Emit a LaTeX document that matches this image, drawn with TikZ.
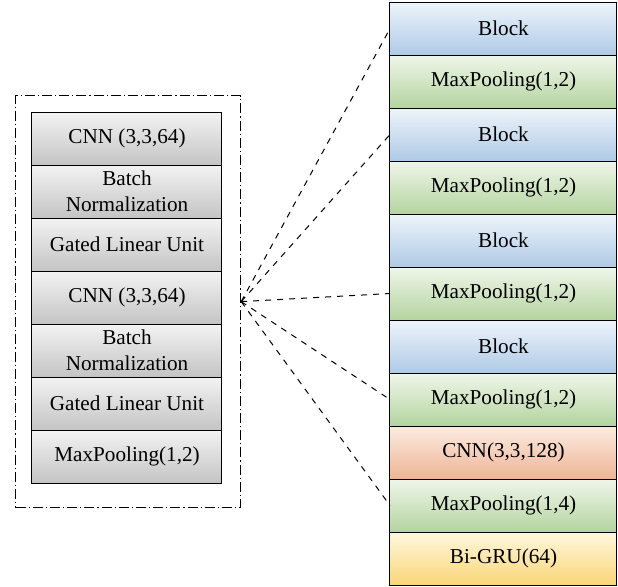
\documentclass[tikz,border=0pt]{standalone}
\usepackage{fontspec}
\setmainfont{Liberation Serif}
\usetikzlibrary{positioning}

\definecolor{grayTop}{HTML}{F3F3F3}
\definecolor{grayBot}{HTML}{C4C4C4}
\definecolor{blueTop}{HTML}{EEF4FB}
\definecolor{blueBot}{HTML}{AFCAE6}
\definecolor{greenTop}{HTML}{EFF6EA}
\definecolor{greenBot}{HTML}{B4D49F}
\definecolor{redTop}{HTML}{FCEBE2}
\definecolor{redBot}{HTML}{EEB595}
\definecolor{yellowTop}{HTML}{FFF7DF}
\definecolor{yellowBot}{HTML}{F9D676}

\begin{document}
\begin{tikzpicture}[
            font = \fontsize{10.6}{13}\selectfont, % text size
            node distance = 0pt, % stacked layers touch
            layer/.style = {draw, line width=0.5pt, outer sep=0pt, inner sep=1pt,
                            minimum height=26.5pt, align=center},
            unit/.style = {layer, minimum width=95pt, top color=grayTop, bottom color=grayBot},
            stage/.style = {layer, minimum width=113.5pt},
            block/.style = {stage, top color=blueTop, bottom color=blueBot},
            pool/.style = {stage, top color=greenTop, bottom color=greenBot},
            conv/.style = {stage, top color=redTop, bottom color=redBot},
            gru/.style = {stage, top color=yellowTop, bottom color=yellowBot},
            link/.style = {dashed, line width=0.5pt} % zoom lines
        ]

    \useasboundingbox (0,0) rectangle (309pt,-293pt);

    % inside of one block
    \node[draw, dash pattern=on 5pt off 1.5pt on 0.6pt off 1.5pt, line width=0.6pt,
          minimum width=112.5pt, minimum height=206pt,
          anchor=north west] (frame) at (7.5pt,-47.5pt) {};

    \node[unit, anchor=north west] (cnnA) at (16pt,-56pt) {CNN (3,3,64)};
    \node[unit, below=of cnnA] (bnA) {Batch\\Normalization};
    \node[unit, below=of bnA] (gluA) {Gated Linear Unit};
    \node[unit, below=of gluA] (cnnB) {CNN (3,3,64)};
    \node[unit, below=of cnnB] (bnB) {Batch\\Normalization};
    \node[unit, below=of bnB] (gluB) {Gated Linear Unit};
    \node[unit, below=of gluB] (poolIn) {MaxPooling(1,2)};

    % whole network
    \node[block, anchor=north west] (blockA) at (195pt,-1pt) {Block};
    \node[pool, below=of blockA] (poolA) {MaxPooling(1,2)};
    \node[block, below=of poolA] (blockB) {Block};
    \node[pool, below=of blockB] (poolB) {MaxPooling(1,2)};
    \node[block, below=of poolB] (blockC) {Block};
    \node[pool, below=of blockC] (poolC) {MaxPooling(1,2)};
    \node[block, below=of poolC] (blockD) {Block};
    \node[pool, below=of blockD] (poolD) {MaxPooling(1,2)};
    \node[conv, below=of poolD] (cnnOut) {CNN(3,3,128)};
    \node[pool, below=of cnnOut] (poolE) {MaxPooling(1,4)};
    \node[gru, below=of poolE] (gru) {Bi-GRU(64)};

    \draw[link] (frame.east) -- (blockA.west);
    \draw[link] (frame.east) -- (blockB.west);
    \draw[link] (frame.east) -- (poolC.west);
    \draw[link] (frame.east) -- (poolD.west);
    \draw[link] (frame.east) -- (poolE.west);

\end{tikzpicture}
\end{document}
